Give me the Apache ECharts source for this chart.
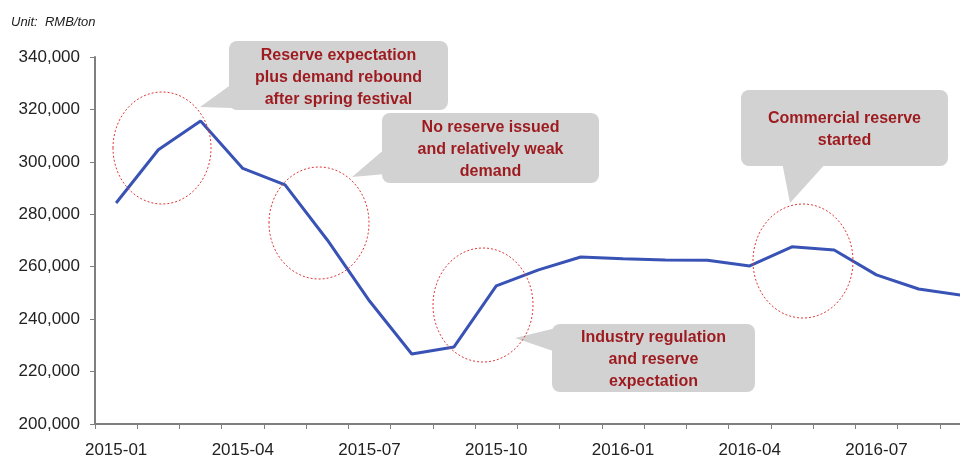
<!DOCTYPE html>
<html>
<head>
<meta charset="utf-8">
<script src="https://cdn.jsdelivr.net/npm/echarts@6/dist/echarts.min.js"></script>
<style>
  html, body { margin: 0; padding: 0; background: #fff; }
  #main { width: 960px; height: 460px; }
</style>
</head>
<body>
<div id="main"></div>
<script type="text/javascript">
// months on the x axis
var months = ['2015-01','2015-02','2015-03','2015-04','2015-05','2015-06','2015-07','2015-08','2015-09',
              '2015-10','2015-11','2015-12','2016-01','2016-02','2016-03','2016-04','2016-05','2016-06',
              '2016-07','2016-08','2016-09'];
// price, RMB/ton
var prices = [284300, 304600, 315600, 297500, 291200, 270200, 246900, 226700, 229400,
              252700, 258800, 263700, 263000, 262600, 262500, 260300, 267600, 266400,
              256900, 251500, 249200];

var myChart = echarts.init(document.getElementById('main'));

var noteFont = 'bold 16px "Liberation Sans", Arial, sans-serif';
var noteColor = '#9d1a1f';
var boxFill = '#d2d2d2';
var ringStyle = { fill: 'none', stroke: '#e2383a', lineWidth: 1, lineDash: [2, 2] };

// callout bubble: rounded box + pointer triangle + text
function bubble(x, y, w, h, pointer, text) {
	return [
		{ type: 'polygon', shape: { points: pointer }, style: { fill: boxFill }, z: 10 },
		{ type: 'rect', shape: { x: x, y: y, width: w, height: h, r: 8 }, style: { fill: boxFill }, z: 10 },
		{ type: 'text', x: x + w / 2, y: y + h / 2 + 2, z: 11,
		  style: { text: text, font: noteFont, fill: noteColor, align: 'center', verticalAlign: 'middle', lineHeight: 22 } }
	];
}

function ring(cx, cy, rx, ry) {
	return { type: 'ellipse', shape: { cx: cx, cy: cy, rx: rx, ry: ry }, style: ringStyle, z: 12 };
}

var graphics = [].concat(
	bubble(229, 41, 219, 69, [[200, 107], [232, 84], [232, 108]], 'Reserve expectation\nplus demand rebound\nafter spring festival'),
	bubble(382, 113, 217, 70, [[352, 177], [386, 148], [386, 174]], 'No reserve issued\nand relatively weak\ndemand'),
	bubble(552, 324, 203, 68, [[515, 338], [556, 328], [556, 352]], 'Industry regulation\nand reserve\nexpectation'),
	bubble(741, 90, 207, 76, [[790, 203], [782, 162], [827, 162]], 'Commercial reserve\nstarted'),
	[ring(162, 148, 49, 56), ring(319, 223, 50, 56), ring(483, 305, 50, 57), ring(803, 261, 50, 57)]
);

var axisFont = '"Liberation Sans", Arial, sans-serif';

var option = {
	animation: false,
	backgroundColor: '#fff',
	title: {
		text: 'Unit:  RMB/ton',
		left: 6,
		top: 11,
		textStyle: { fontSize: 13, fontStyle: 'italic', fontWeight: 'normal', color: '#222', fontFamily: axisFont }
	},
	// the reference is cropped on the right, so the plot runs past the edge
	grid: { left: 95, right: -22, top: 57, bottom: 36, containLabel: false, outerBoundsMode: 'none' },
	xAxis: {
		type: 'category',
		data: months,
		boundaryGap: true,
		axisLine: { lineStyle: { color: '#7f7f7f', width: 2 } },
		axisTick: { show: true, interval: 0, length: 5, lineStyle: { color: '#7f7f7f', width: 1 } },
		axisLabel: { interval: 2, color: '#222', fontSize: 17, margin: 18, fontFamily: axisFont },
		splitLine: { show: false }
	},
	yAxis: {
		type: 'value',
		min: 200000,
		max: 340000,
		interval: 20000,
		axisLine: { show: true, lineStyle: { color: '#7f7f7f', width: 2 } },
		axisTick: { show: true, length: 5, lineStyle: { color: '#7f7f7f' } },
		axisLabel: {
			color: '#222', fontSize: 17, margin: 15, fontFamily: axisFont,
			formatter: function (v) { return v.toLocaleString('en-US'); }
		},
		splitLine: { show: false }
	},
	series: [
		{
			name: 'Price',
			type: 'line',
			data: prices,
			symbol: 'none',
			lineStyle: { color: '#3853b5', width: 3 },
			z: 5
		}
	],
	graphic: graphics
};
myChart.setOption(option);
</script>
</body>
</html>
